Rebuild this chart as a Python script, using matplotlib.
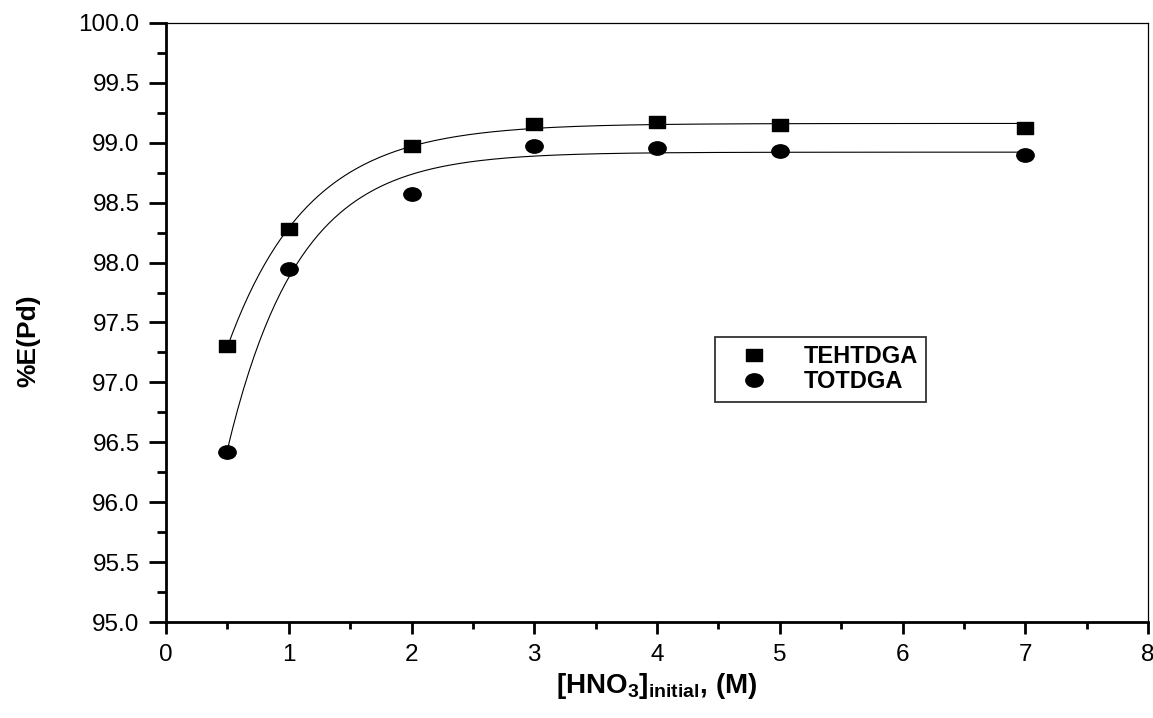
import numpy as np
import matplotlib
matplotlib.use("Agg")
import matplotlib.pyplot as plt
from matplotlib.path import Path
from matplotlib.transforms import Affine2D
from matplotlib.ticker import MultipleLocator

plt.rcParams["font.family"] = ["Liberation Sans", "DejaVu Sans"]
plt.rcParams["mathtext.fontset"] = "custom"
plt.rcParams["mathtext.rm"] = "Liberation Sans"
plt.rcParams["mathtext.bf"] = "Liberation Sans:bold"

hno3 = np.array([0.5, 1, 2, 3, 4, 5, 7])
tehtdga = np.array([97.30, 98.28, 98.97, 99.16, 99.17, 99.15, 99.12])
totdga = np.array([96.42, 97.95, 98.57, 98.97, 98.96, 98.93, 98.90])


def fit_exp(x, y):
    # y = y0 + a*exp(-x/t), grid search on t, linear lstsq for y0, a
    best = None
    for t in np.linspace(0.05, 5, 3000):
        m = np.column_stack([np.ones_like(x), np.exp(-x / t)])
        coef = np.linalg.lstsq(m, y, rcond=None)[0]
        sse = np.sum((m @ coef - y) ** 2)
        if best is None or sse < best[0]:
            best = (sse, coef[0], coef[1], t)
    return best[1:]


# slightly wide markers, like the original
sq = Path([(-1.25, -1), (1.25, -1), (1.25, 1), (-1.25, 1), (-1.25, -1)],
          [Path.MOVETO, Path.LINETO, Path.LINETO, Path.LINETO, Path.CLOSEPOLY])
circ = Path.unit_circle().transformed(Affine2D().scale(1.3, 1.0))

fig = plt.figure(figsize=(11.53, 7.18), dpi=100)
ax = fig.add_axes([0.144, 0.1337, 0.8517, 0.8343])

xs = np.linspace(hno3.min(), hno3.max(), 300)
for y, mk, ms, lab in [(tehtdga, sq, 11, "TEHTDGA"), (totdga, circ, 12.5, "TOTDGA")]:
    y0, a, t = fit_exp(hno3, y)
    ax.plot(xs, y0 + a * np.exp(-xs / t), color="black", lw=0.8)
    ax.plot(hno3, y, ls="none", marker=mk, ms=ms, color="black", label=lab)

ax.set_xlim(0, 8)
ax.set_ylim(95, 100)
ax.xaxis.set_major_locator(MultipleLocator(1))
ax.xaxis.set_minor_locator(MultipleLocator(0.5))
ax.yaxis.set_major_locator(MultipleLocator(0.5))
ax.yaxis.set_minor_locator(MultipleLocator(0.25))
ax.yaxis.set_major_formatter(matplotlib.ticker.FormatStrFormatter("%.1f"))

for s in ["left", "bottom"]:
    ax.spines[s].set_linewidth(2.0)
for s in ["top", "right"]:
    ax.spines[s].set_linewidth(0.9)

ax.tick_params(axis="y", which="major", length=12, width=2, labelsize=17.5, pad=7)
ax.tick_params(axis="y", which="minor", length=6.5, width=2)
ax.tick_params(axis="x", which="major", length=8.5, width=2, labelsize=17.5, pad=7)
ax.tick_params(axis="x", which="minor", length=5, width=2)

ax.set_xlabel(r"[HNO$_\mathbf{3}$]$_\mathbf{initial}$, (M)", fontsize=20,
              fontweight="bold", va="top")
ax.xaxis.set_label_coords(0.5, -0.082)
ax.set_ylabel("%E(Pd)", fontsize=19, fontweight="bold")
ax.yaxis.set_label_coords(-0.128, 0.47)

leg = ax.legend(loc="upper left", bbox_to_anchor=(0.559, 0.476), borderaxespad=0,
                frameon=True, fancybox=False, edgecolor="black",
                prop={"weight": "bold", "size": 17}, handlelength=2.6,
                handletextpad=0.8, borderpad=0.35, labelspacing=0.1,
                numpoints=1)
leg.get_frame().set_linewidth(1.3)

fig.savefig("out.png", dpi=100)
